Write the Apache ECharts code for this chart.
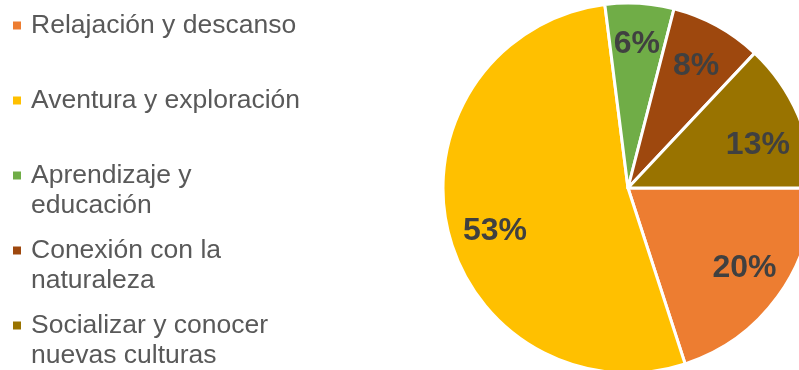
<!DOCTYPE html>
<html>
<head>
<meta charset="utf-8">
<script src="https://cdn.jsdelivr.net/npm/echarts@6/dist/echarts.min.js"></script>
<style>
html,body{margin:0;padding:0;background:#fff;}
#chart{width:799px;height:370px;}
</style>
</head>
<body>
<div id="chart"></div>
<script>
const categories = ['Relajación y descanso', 'Aventura y exploración', 'Aprendizaje y educación', 'Conexión con la naturaleza', 'Socializar y conocer nuevas culturas'];
const legendLabels = ['Relajación y descanso\n ', 'Aventura y exploración\n ', 'Aprendizaje y\neducación', 'Conexión con la\nnaturaleza', 'Socializar y conocer\nnuevas culturas'];
const values = [20, 53, 6, 8, 13];

// styling (not data)
const colors = ['#ED7D31', '#FFC000', '#70AD47', '#9E480E', '#997300'];
const labelNudge = [[2, -3], [5, 12], [0, -3], [0, 2], [0, 13]];

const chart = echarts.init(document.getElementById('chart'), null, {renderer: 'canvas', width: 799, height: 370});
const pieData = categories.map((c, i) => ({name: c, value: values[i], itemStyle: {color: colors[i]}}));
const labelData = categories.map((c, i) => ({name: c, value: values[i], label: {offset: labelNudge[i]}}));

chart.setOption({
  animation: false,
  backgroundColor: '#ffffff',
  legend: {
    type: 'plain',
    orient: 'vertical',
    left: 13,
    top: 10,
    width: 400,
    height: 600,
    padding: 0,
    itemGap: 14,
    itemWidth: 8,
    itemHeight: 38,
    icon: 'square',
    itemStyle: {borderWidth: 0},
    data: categories,
    formatter: function (name) { return legendLabels[categories.indexOf(name)]; },
    textStyle: {
      fontFamily: 'Liberation Sans, Arial, sans-serif',
      fontSize: 26.5,
      lineHeight: 30.5,
      color: '#595959',
      padding: [0, 0, 0, 5]
    }
  },
  series: [
    {
      type: 'pie',
      center: [628, 188],
      radius: 185,
      startAngle: 0,
      clockwise: true,
      avoidLabelOverlap: false,
      itemStyle: {borderColor: '#ffffff', borderWidth: 3},
      label: {show: false},
      labelLine: {show: false},
      emphasis: {disabled: true},
      data: pieData
    },
    {
      type: 'pie',
      center: [628, 188],
      radius: [92, 185],
      startAngle: 0,
      clockwise: true,
      silent: true,
      legendHoverLink: false,
      avoidLabelOverlap: false,
      itemStyle: {color: 'rgba(0,0,0,0)', borderWidth: 0},
      label: {
        show: true,
        position: 'inside',
        formatter: '{c}%',
        fontFamily: 'Liberation Sans, Arial, sans-serif',
        fontWeight: 'bold',
        fontSize: 32,
        color: '#404040'
      },
      labelLine: {show: false},
      emphasis: {disabled: true},
      data: labelData
    }
  ]
});
</script>
</body>
</html>
